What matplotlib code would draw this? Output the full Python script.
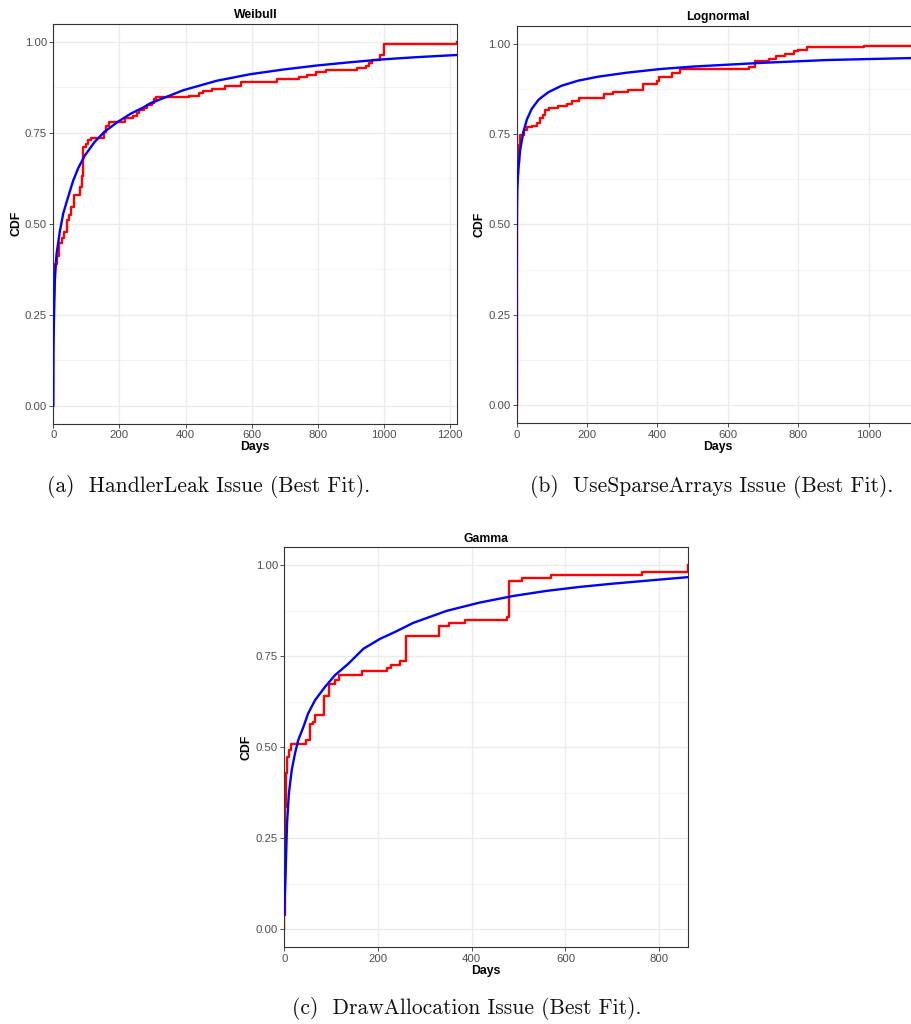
import numpy as np
import matplotlib
matplotlib.use("Agg")
import matplotlib.pyplot as plt

# ── Empirical CDF steps (x = day of jump, y = CDF after jump) and fitted curves ──
WEIBULL_ECDF_X = [0, 0, 2, 4, 10, 17, 25, 32, 41, 48, 55, 63, 80, 86, 89, 91, 98,
                  106, 113, 153, 160, 168, 218, 240, 252, 260, 275, 283, 298, 305,
                  311, 409, 442, 454, 480, 520, 567, 677, 743, 766, 794, 824, 920,
                  945, 955, 963, 988, 1000, 1222, 1222]
WEIBULL_ECDF_Y = [0.0, 0.30, 0.35, 0.39, 0.41, 0.446, 0.46, 0.478, 0.51, 0.524,
                  0.547, 0.58, 0.60, 0.63, 0.656, 0.712, 0.72, 0.73, 0.735, 0.753,
                  0.77, 0.78, 0.79, 0.797, 0.805, 0.812, 0.819, 0.826, 0.833, 0.842,
                  0.848, 0.852, 0.859, 0.865, 0.871, 0.878, 0.89, 0.897, 0.903, 0.91,
                  0.916, 0.922, 0.928, 0.935, 0.941, 0.95, 0.963, 0.995, 0.995, 1.0]
WEIBULL_FIT_X = [0, 0.5, 2, 5, 10, 20, 30, 45, 60, 75, 95, 125, 155, 195, 235, 275,
                 293, 393, 494, 595, 696, 797, 898, 998, 1099, 1222]
WEIBULL_FIT_Y = [0.0, 0.15, 0.235, 0.354, 0.418, 0.48, 0.528, 0.574, 0.618, 0.652,
                 0.687, 0.725, 0.753, 0.78, 0.803, 0.821, 0.831, 0.867, 0.893, 0.911,
                 0.924, 0.935, 0.944, 0.952, 0.958, 0.964]

LOGNORM_ECDF_X = [0, 0, 1, 3, 6, 10, 21, 30, 43, 59, 66, 74, 82, 93, 119, 142, 157,
                  177, 248, 275, 317, 360, 398, 405, 442, 464, 660, 678, 716, 738,
                  762, 788, 800, 824, 988, 1144]
LOGNORM_ECDF_Y = [0.0, 0.015, 0.64, 0.67, 0.72, 0.748, 0.762, 0.77, 0.773, 0.78,
                  0.795, 0.804, 0.816, 0.822, 0.827, 0.833, 0.842, 0.849, 0.86, 0.867,
                  0.873, 0.89, 0.896, 0.908, 0.919, 0.929, 0.937, 0.952, 0.958, 0.965,
                  0.972, 0.979, 0.983, 0.99, 0.995, 0.995]
LOGNORM_FIT_X = [0, 0.2, 0.5, 1, 2, 5, 10, 19, 29, 43, 62, 90, 128, 175, 232, 313,
                 407, 502, 597, 692, 786, 881, 1144]
LOGNORM_FIT_Y = [0.02, 0.3, 0.45, 0.55, 0.6, 0.652, 0.705, 0.755, 0.79, 0.82,
                 0.845, 0.866, 0.884, 0.898, 0.909, 0.92, 0.93, 0.937, 0.942, 0.947,
                 0.951, 0.955, 0.961]

GAMMA_ECDF_X = [0, 0, 1.5, 4, 7, 10, 14, 47, 54, 56, 61, 66, 84, 96, 108, 116, 167,
                220, 227, 247, 260, 330, 351, 386, 475, 480, 508, 569, 764, 862]
GAMMA_ECDF_Y = [0.0, 0.04, 0.337, 0.43, 0.474, 0.492, 0.509, 0.52, 0.527, 0.563,
                0.57, 0.588, 0.64, 0.675, 0.684, 0.70, 0.71, 0.718, 0.727, 0.737,
                0.806, 0.833, 0.842, 0.85, 0.858, 0.956, 0.965, 0.974, 0.983, 1.0]
GAMMA_FIT_X = [0.3, 1, 3, 6, 10, 16, 23, 30, 41, 51, 66, 87, 108, 137, 169, 204, 236,
               275, 346, 417, 488, 559, 630, 701, 772, 862]
GAMMA_FIT_Y = [0.04, 0.08, 0.154, 0.29, 0.373, 0.437, 0.483, 0.52, 0.556, 0.593,
               0.63, 0.666, 0.698, 0.73, 0.771, 0.798, 0.817, 0.842, 0.875, 0.898,
               0.916, 0.93, 0.941, 0.95, 0.958, 0.968]

X_TICKS = [0, 200, 400, 600, 800, 1000, 1200]
Y_TICKS = [0.00, 0.25, 0.50, 0.75, 1.00]
Y_MINOR = [0.125, 0.375, 0.625, 0.875]

W, H = 912, 1024
fig = plt.figure(figsize=(W / 100, H / 100), dpi=100, facecolor="white")
SANS = ["Liberation Sans", "DejaVu Sans"]


def add_panel(box, title, xmax, ecdf_x, ecdf_y, fit_x, fit_y):
    left, top, right, bottom = box
    ax = fig.add_axes([left / W, 1 - bottom / H, (right - left) / W, (bottom - top) / H])
    ax.set_xlim(0, xmax)
    ax.set_ylim(-0.05, 1.05)
    for y in Y_MINOR:
        ax.axhline(y, color="#F2F2F2", lw=0.6, zorder=0)
    for y in Y_TICKS:
        ax.axhline(y, color="#EBEBEB", lw=1.0, zorder=0)
    for x in X_TICKS:
        if x <= xmax:
            ax.axvline(x, color="#EBEBEB", lw=1.0, zorder=0)
    ax.step(ecdf_x, ecdf_y, where="post", color="#FF0000", lw=1.7, zorder=2)
    ax.plot(fit_x, fit_y, color="#0000FF", lw=1.7, zorder=3)
    ax.set_xticks([t for t in X_TICKS if t <= xmax])
    ax.set_yticks(Y_TICKS)
    ax.set_yticklabels([f"{t:.2f}" for t in Y_TICKS])
    ax.tick_params(colors="#333333", labelcolor="#4D4D4D", labelsize=8.2,
                   length=3, width=0.6, pad=1.5)
    for lab in ax.get_xticklabels() + ax.get_yticklabels():
        lab.set_family(SANS)
    for s in ax.spines.values():
        s.set_color("#333333")
        s.set_linewidth(0.8)
    ax.set_title(title, fontsize=8.8, fontweight="bold", family=SANS, pad=4)
    ax.set_xlabel("Days", fontsize=8.8, fontweight="bold", family=SANS, labelpad=1)
    ax.set_ylabel("CDF", fontsize=8.8, fontweight="bold", family=SANS, labelpad=2)
    return ax


add_panel((53.3, 23.7, 457.3, 423.7), "Weibull", 1222,
          WEIBULL_ECDF_X, WEIBULL_ECDF_Y, WEIBULL_FIT_X, WEIBULL_FIT_Y)
add_panel((516.6, 25.7, 919.4, 423.3), "Lognormal", 1144,
          LOGNORM_ECDF_X, LOGNORM_ECDF_Y, LOGNORM_FIT_X, LOGNORM_FIT_Y)
add_panel((284.2, 547.3, 688.3, 947.3), "Gamma", 862,
          GAMMA_ECDF_X, GAMMA_ECDF_Y, GAMMA_FIT_X, GAMMA_FIT_Y)

# subfigure captions
CAPTIONS = [("(a)  HandlerLeak Issue (Best Fit).", 209, 487),
            ("(b)  UseSparseArrays Issue (Best Fit).", 712, 487),
            ("(c)  DrawAllocation Issue (Best Fit).", 467, 1009)]
for text, cx, cy in CAPTIONS:
    fig.text(cx / W, 1 - cy / H, text, family="cmr10", fontsize=15.5,
             ha="center", va="center", color="#111111")

fig.savefig("out.png", dpi=100, facecolor="white")
